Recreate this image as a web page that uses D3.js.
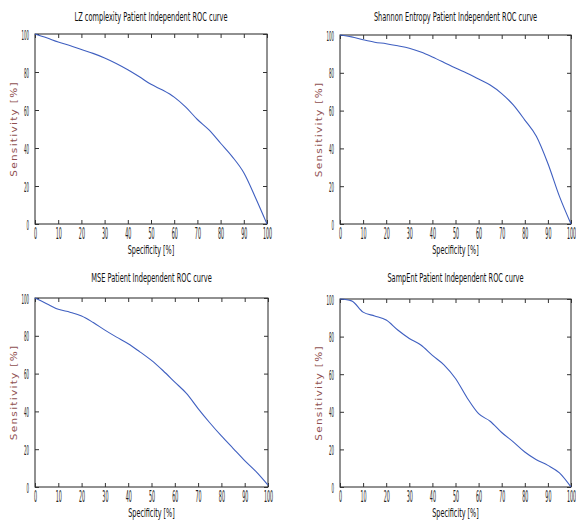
<!DOCTYPE html>
<head>
  <meta charset="utf-8" />
  <script src="https://d3js.org/d3.v7.min.js"></script>
  <style>
    body {
      margin: 0;
      background: #fff;
    }
    text {
      font-family: "DejaVu Sans", sans-serif;
    }
  </style>
</head>

<body>
  <script>
    var width = 576,
      height = 529;

    // abscisses communes (Specificity %)
    var spec = [0, 5, 10, 15, 20, 25, 30, 35, 40, 45, 50, 55, 60, 65, 70, 75, 80, 85, 90, 95, 100];

    // Sensitivity lue sur chaque courbe
    var lzSens = [100, 98, 95.8, 94, 91.8, 89.8, 87.4, 84.5, 81.2, 77.5, 73.5, 70.5, 66.8, 61.5, 55, 49.5, 42.5, 35.5, 27, 14, 0];
    var shannonSens = [100, 99, 97.5, 96.2, 95.4, 94.3, 93, 91, 88.4, 85.5, 82.5, 79.8, 76.7, 73.5, 69, 63, 55, 46.4, 32, 14.6, 0];
    var mseSens = [100, 97, 94, 92.5, 90.5, 87, 83, 79.3, 75.8, 71.5, 67, 61.5, 55.5, 49.5, 41.5, 34, 27, 20.5, 14, 8, 1];
    var sampSens = [100, 99, 93, 91, 88.8, 83.5, 79, 75.5, 70, 65, 57.7, 47.5, 39, 35, 29, 24, 18.6, 14.5, 11.5, 7.5, 0];

    var titles = [
      "LZ complexity Patient Independent ROC curve",
      "Shannon Entropy Patient Independent ROC curve",
      "MSE Patient Independent ROC curve",
      "SampEnt Patient Independent ROC curve"
    ];
    var xTicks = [0, 10, 20, 30, 40, 50, 60, 70, 80, 90, 100];
    var yTicks = [0, 20, 40, 60, 80, 100];

    var panels = [
      { box: [35, 267, 34, 224], sens: lzSens, ty: 21 },
      { box: [340, 571, 35, 224], sens: shannonSens, ty: 21 },
      { box: [35, 268, 298, 487], sens: mseSens, ty: 282 },
      { box: [340, 571, 299, 487], sens: sampSens, ty: 282 }
    ];

    // l'image d'origine est très compressée horizontalement
    var sTickX = 0.31, sTickY = 0.28, sTitle = 0.51, sLabel = 0.54;

    var svg = d3
      .select("body")
      .append("svg")
      .attr("width", width)
      .attr("height", height);

    function squeezed(sel, x, y, s) {
      return sel.append("g")
        .attr("transform", "translate(" + x + "," + y + ") scale(" + s + ",1)")
        .append("text");
    }

    panels.forEach(function (p, i) {
      var l = p.box[0], r = p.box[1], t = p.box[2], b = p.box[3];
      var x = d3.scaleLinear().domain([0, 100]).range([l, r]);
      var y = d3.scaleLinear().domain([0, 100]).range([b, t]);
      var g = svg.append("g");

      // cadre
      g.append("rect")
        .attr("x", l).attr("y", t)
        .attr("width", r - l).attr("height", b - t)
        .attr("fill", "none").attr("stroke", "#222").attr("stroke-width", 1);

      // axes façon matlab : graduations vers l'intérieur
      var xb = g.append("g").attr("transform", "translate(0," + b + ")")
        .call(d3.axisBottom(x).tickValues(xTicks).tickSizeInner(-4).tickSizeOuter(0));
      var xt = g.append("g").attr("transform", "translate(0," + t + ")")
        .call(d3.axisTop(x).tickValues(xTicks).tickSizeInner(-4).tickSizeOuter(0).tickFormat(""));
      var yl = g.append("g").attr("transform", "translate(" + l + ",0)")
        .call(d3.axisLeft(y).tickValues(yTicks).tickSizeInner(-4).tickSizeOuter(0));
      var yr = g.append("g").attr("transform", "translate(" + r + ",0)")
        .call(d3.axisRight(y).tickValues(yTicks).tickSizeInner(-4).tickSizeOuter(0).tickFormat(""));
      [xb, xt, yl, yr].forEach(function (a) {
        a.select(".domain").remove();
        a.selectAll("line").attr("stroke", "#333");
      });
      xb.selectAll("text")
        .attr("y", 15).attr("dy", 0)
        .attr("font-size", 15.5).attr("fill", "#222")
        .attr("transform", "scale(" + sTickX + ",1)");
      yl.selectAll("text")
        .attr("x", -6 / sTickY).attr("dy", "0.36em")
        .attr("font-size", 14).attr("fill", "#222")
        .attr("transform", "scale(" + sTickY + ",1)");

      // titre
      squeezed(g, (l + r) / 2, p.ty, sTitle)
        .attr("text-anchor", "middle").attr("font-size", 13).attr("fill", "#111")
        .text(titles[i]);

      // libellés
      squeezed(g, (l + r) / 2, b + 30, sLabel)
        .attr("text-anchor", "middle").attr("font-size", 12).attr("fill", "#111")
        .text("Specificity [%]");
      g.append("text")
        .attr("transform", "translate(" + (l - 18) + "," + (t + b) / 2 + ") rotate(-90) scale(1,0.8)")
        .attr("text-anchor", "middle").attr("font-size", 10.5).attr("fill", "#8f4f4f")
        .attr("letter-spacing", 1.3)
        .text("Sensitivity [%]");

      // courbe ROC
      var line = d3.line()
        .x(function (d, k) { return x(spec[k]); })
        .y(function (d) { return y(d); })
        .curve(d3.curveMonotoneX);
      g.append("path")
        .datum(p.sens)
        .attr("d", line)
        .attr("fill", "none")
        .attr("stroke", "#3f5fc0")
        .attr("stroke-width", 1.1);
    });
  </script>
</body>
